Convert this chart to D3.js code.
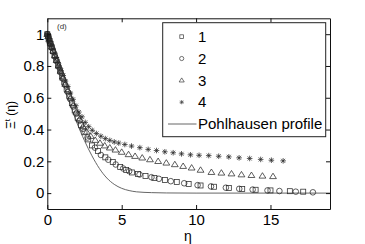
<!DOCTYPE html>
<html>
  <head>
    <meta charset="utf-8">
    <title>Xi t profile</title>
    <script src="https://cdnjs.cloudflare.com/ajax/libs/d3/7.8.5/d3.min.js"></script>
    <style>
      body { margin: 0; background-color: #FFF; }
      svg { display: block; background-color: #FFF; font-family: "Liberation Sans", Arial, sans-serif; }
    </style>
  </head>
  <body>
    <svg width="365" height="244"></svg>
    <script>
      // data: [eta, value]
      var series1 = [[0,1],[0.04,0.99],[0.09,0.975],[0.15,0.958],[0.22,0.94],[0.3,0.918],[0.39,0.893],[0.49,0.866],
        [0.6,0.837],[0.72,0.806],[0.85,0.772],[0.99,0.735],[1.14,0.696],[1.3,0.655],[1.47,0.611],[1.65,0.566],
        [1.84,0.52],[2.04,0.474],[2.26,0.428],[2.5,0.383],[2.75,0.338],[3.0,0.3],[3.4,0.265],[3.9,0.225],
        [4.4,0.195],[4.9,0.165],[5.3,0.145],[5.7,0.13],[6.1,0.12],[6.6,0.107],[7.2,0.095],[7.9,0.083],[8.7,0.07],
        [9.5,0.058],[10.3,0.048],[11.2,0.04],[12.2,0.032],[13.1,0.026],[14.0,0.021],[15.0,0.017],[16.3,0.012],[17.2,0.009]];
      var series2 = [[0,1],[0.06,0.985],[0.13,0.965],[0.21,0.94],[0.3,0.915],[0.4,0.89],[0.51,0.86],[0.63,0.83],
        [0.76,0.795],[0.9,0.76],[1.05,0.72],[1.21,0.68],[1.38,0.635],[1.56,0.59],[1.75,0.545],[1.95,0.5],
        [2.16,0.455],[2.4,0.405],[2.7,0.35],[3.2,0.286],[3.6,0.24],[4.1,0.21],[4.6,0.18],[5.1,0.155],[5.5,0.138],
        [6.2,0.117],[7.0,0.1],[7.5,0.09],[8.3,0.075],[9.2,0.062],[10.1,0.05],[11.0,0.042],[12.0,0.034],
        [12.9,0.027],[13.8,0.022],[14.8,0.017],[15.6,0.013],[16.7,0.009],[17.85,0.005]];
      var series3 = [[0,1],[0.06,0.985],[0.13,0.965],[0.21,0.945],[0.3,0.92],[0.4,0.895],[0.51,0.865],[0.63,0.835],
        [0.76,0.8],[0.9,0.765],[1.05,0.725],[1.21,0.685],[1.38,0.645],[1.56,0.6],[1.75,0.555],[1.95,0.51],
        [2.16,0.465],[2.4,0.42],[2.65,0.385],[2.92,0.358],[3.22,0.333],[3.54,0.315],[3.86,0.298],[4.2,0.285],
        [4.58,0.272],[5.0,0.258],[5.46,0.243],[5.9,0.232],[6.38,0.222],[6.9,0.211],[7.45,0.2],[8.0,0.19],
        [8.57,0.18],[9.13,0.169],[9.7,0.159],[10.3,0.145],[11.03,0.131],[11.7,0.127],[12.38,0.122],[13.05,0.116],
        [13.72,0.112],[14.46,0.108],[15.17,0.105]];
      var series4 = [[0,1],[0.05,0.99],[0.1,0.975],[0.16,0.96],[0.23,0.94],[0.3,0.925],[0.38,0.905],[0.47,0.88],
        [0.57,0.855],[0.68,0.83],[0.8,0.8],[0.93,0.77],[1.07,0.74],[1.22,0.705],[1.38,0.67],[1.55,0.63],
        [1.73,0.59],[1.92,0.55],[2.12,0.51],[2.33,0.48],[2.55,0.445],[2.78,0.418],[3.02,0.395],[3.3,0.375],
        [3.6,0.358],[3.9,0.343],[4.2,0.332],[4.5,0.322],[4.8,0.315],[5.21,0.306],[5.66,0.296],[6.22,0.286],
        [6.78,0.275],[7.34,0.268],[7.9,0.26],[8.46,0.254],[9.02,0.247],[9.62,0.241],[10.2,0.238],[10.85,0.236],
        [11.52,0.232],[12.2,0.228],[12.89,0.222],[13.6,0.218],[14.34,0.212],[15.06,0.207],[15.85,0.203]];
      var pohlhausen = [[0,1],[0.5,0.855],[1,0.71],[1.5,0.57],[2,0.44],[2.5,0.33],[3,0.235],[3.5,0.155],[4,0.095],
        [4.5,0.055],[5,0.03],[5.5,0.016],[6,0.008],[7,0.003],[8,0.001],[10,0],[19,0]];
      var legendLabels = ["1", "2", "3", "4", "Pohlhausen profile"];
      var xTicks = [0, 5, 10, 15];
      var yTicks = [0, 0.2, 0.4, 0.6, 0.8, 1];

      var svg = d3.select("svg");
      var x = d3.scaleLinear().domain([0, 19]).range([47.3, 330]);
      var y = d3.scaleLinear().domain([-0.1, 1.1]).range([209, 18.3]);
      var ink = "#2a2a2a";

      // marker drawers
      function square(g, s) {
        g.append("rect").attr("x", -s / 2).attr("y", -s / 2).attr("width", s).attr("height", s);
      }
      function circle(g, s) {
        g.append("circle").attr("r", s / 2);
      }
      function triangle(g, s) {
        var h = s * 0.8;
        g.append("path").attr("d", "M0," + (-h * 0.6) + "L" + (s / 2) + "," + (h * 0.4) + "L" + (-s / 2) + "," + (h * 0.4) + "Z");
      }
      function star(g, s) {
        var r = s / 2, d = r * 0.72;
        g.append("path").attr("d", "M" + (-r) + ",0H" + r + "M0," + (-r) + "V" + r +
          "M" + (-d) + "," + (-d) + "L" + d + "," + d + "M" + (-d) + "," + d + "L" + d + "," + (-d));
      }

      var plotSeries = [
        { data: series1, draw: square, size: 5 },
        { data: series2, draw: circle, size: 5.6 },
        { data: series3, draw: triangle, size: 6.8 },
        { data: series4, draw: star, size: 5.6 }
      ];

      // Pohlhausen line
      svg.append("path")
        .datum(pohlhausen)
        .attr("fill", "none")
        .attr("stroke", "#555")
        .attr("stroke-width", 0.9)
        .attr("d", d3.line().x(function(d) { return x(d[0]); }).y(function(d) { return y(d[1]); }).curve(d3.curveMonotoneX));

      plotSeries.forEach(function(s) {
        svg.append("g").selectAll("g").data(s.data).enter().append("g")
          .attr("transform", function(d) { return "translate(" + x(d[0]) + "," + y(d[1]) + ")"; })
          .attr("fill", "none").attr("stroke", ink).attr("stroke-width", 0.75)
          .each(function() { s.draw(d3.select(this), s.size); });
      });

      // axes with inward ticks, box on all sides
      function styleAxis(g) {
        g.selectAll("path").attr("stroke", "#111");
        g.selectAll("line").attr("stroke", "#111");
        g.selectAll("text").attr("fill", "#000").style("font-size", "15px").style("font-family", "'Liberation Sans', Arial, sans-serif");
      }
      svg.append("g").attr("transform", "translate(0,209)")
        .call(d3.axisBottom(x).tickValues(xTicks).tickSizeInner(-4).tickSizeOuter(0).tickPadding(5).tickFormat(d3.format("~g")))
        .call(styleAxis);
      svg.append("g").attr("transform", "translate(0,18.3)")
        .call(d3.axisTop(x).tickValues(xTicks).tickSizeInner(-4).tickSizeOuter(0).tickFormat(""))
        .call(styleAxis);
      svg.append("g").attr("transform", "translate(47.3,0)")
        .call(d3.axisLeft(y).tickValues(yTicks).tickSizeInner(-4).tickSizeOuter(0).tickPadding(3).tickFormat(d3.format("~g")))
        .call(styleAxis);
      svg.append("g").attr("transform", "translate(330,0)")
        .call(d3.axisRight(y).tickValues(yTicks).tickSizeInner(-4).tickSizeOuter(0).tickFormat(""))
        .call(styleAxis);

      // panel tag
      svg.append("text").attr("x", 57).attr("y", 29).style("font-size", "8px").attr("fill", "#333").text("(d)");

      // axis labels
      svg.append("text").attr("x", 188).attr("y", 241).attr("text-anchor", "middle").attr("fill", "#000")
        .style("font-size", "14px").text("η");
      var yl = svg.append("text").attr("transform", "translate(15,115) rotate(-90)").attr("text-anchor", "middle")
        .attr("fill", "#000").style("font-size", "12px");
      yl.append("tspan").attr("fill", "#000").text("Ξ");
      yl.append("tspan").attr("dy", -5).attr("fill", "#000").style("font-size", "8px").text("t");
      yl.append("tspan").attr("dy", 5).attr("fill", "#000").text(" (η)");

      // legend
      var leg = svg.append("g");
      leg.append("rect").attr("x", 162.7).attr("y", 22.7).attr("width", 163).attr("height", 114)
        .attr("fill", "#FFF").attr("stroke", "#222").attr("stroke-width", 1);
      var rowY = d3.scalePoint().domain(legendLabels).range([36.7, 124]);
      plotSeries.forEach(function(s, i) {
        var g = leg.append("g").attr("transform", "translate(181.7," + rowY(legendLabels[i]) + ")")
          .attr("fill", "none").attr("stroke", "#444").attr("stroke-width", 0.75);
        s.draw(g, s.size * 0.75);
      });
      leg.append("line").attr("x1", 168).attr("x2", 196.5)
        .attr("y1", rowY(legendLabels[4])).attr("y2", rowY(legendLabels[4]))
        .attr("stroke", "#555").attr("stroke-width", 0.9);
      leg.selectAll("text.lab").data(legendLabels).enter().append("text")
        .attr("x", 198).attr("y", function(d) { return rowY(d) + 5.3; })
        .style("font-size", "15px").attr("fill", "#000").text(function(d) { return d; });
    </script>
  </body>
</html>
